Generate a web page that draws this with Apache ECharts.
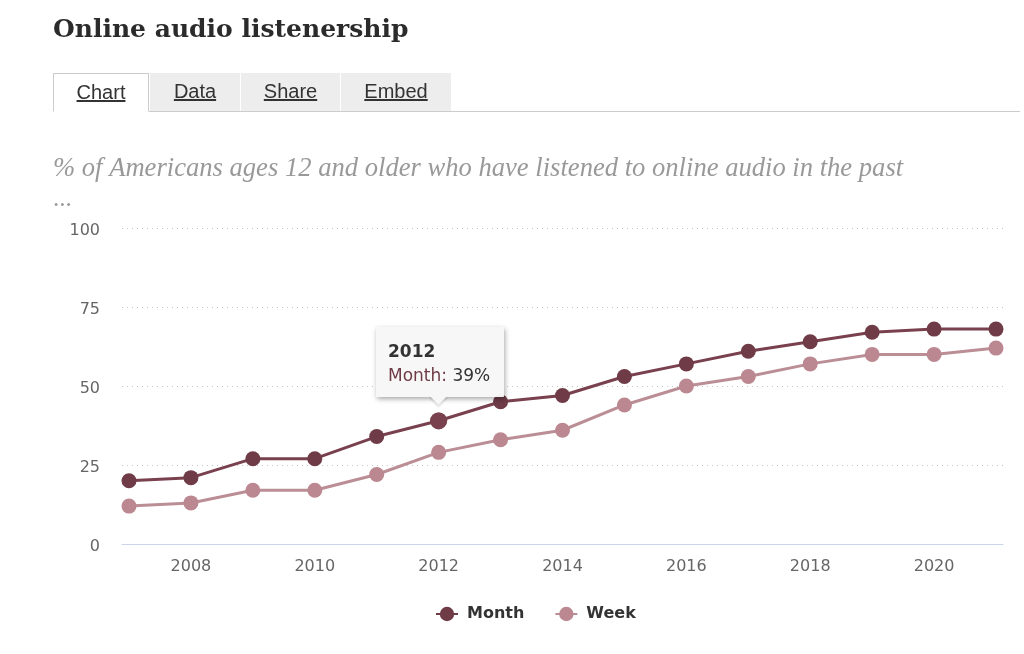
<!DOCTYPE html>
<html>
<head>
<meta charset="utf-8">
<title>Online audio listenership</title>
<script src="https://cdn.jsdelivr.net/npm/echarts@6/dist/echarts.min.js"></script>
<style>
	html, body { margin: 0; padding: 0; background: #fff; overflow: hidden; }
	#audioChart { position: absolute; left: 0; top: 0; width: 1024px; height: 654px; }
	#tabs { position: absolute; left: 53px; top: 73px; width: 967px; height: 38px; border-bottom: 1px solid #ccc; z-index: 2; }
	#tabs a { position: absolute; top: 0; height: 38px; line-height: 37px; text-align: center; background: #ededed;
		font-family: "Liberation Sans", sans-serif; font-size: 20px; color: #333; text-decoration: underline; }
	#tabs a.active { background: #fff; border: 1px solid #ccc; border-bottom: 1px solid #fff; box-sizing: border-box; height: 39px; }
</style>
</head>
<body>
<div id="audioChart"></div>
<div id="tabs">
	<a class="active" style="left:0;width:96px">Chart</a>
	<a style="left:97px;width:90px">Data</a>
	<a style="left:188px;width:99px">Share</a>
	<a style="left:288px;width:110px">Embed</a>
</div>
<script>
var years = [2007, 2008, 2009, 2010, 2011, 2012, 2013, 2014, 2015, 2016, 2017, 2018, 2019, 2020, 2021];
var month = [20, 21, 27, 27, 34, 39, 45, 47, 53, 57, 61, 64, 67, 68, 68];
var week = [12, 13, 17, 17, 22, 29, 33, 36, 44, 50, 53, 57, 60, 60, 62];
var yearTicks = [2008, 2010, 2012, 2014, 2016, 2018, 2020];

var pairUp = function(values) {
	var out = [];
	for (var i = 0; i < years.length; i++) {
		out.push([years[i], values[i]]);
	}
	return out;
};

var audioChart = echarts.init(document.getElementById('audioChart'));
var sansFont = '"DejaVu Sans", sans-serif';

var optionAudio = {
	animation : false,
	backgroundColor : '#fff',
	title : [ {
		text : 'Online audio listenership',
		left : 53,
		top : 18,
		padding : 0,
		textStyle : {
			fontFamily : '"DejaVu Serif", serif',
			fontWeight : 'bold',
			fontSize : 25,
			color : '#2b2b2b'
		}
	}, {
		text : '% of Americans ages 12 and older who have listened to online audio in the past',
		left : 53,
		top : 155,
		padding : 0,
		textStyle : {
			fontFamily : '"Liberation Serif", serif',
			fontStyle : 'italic',
			fontWeight : 'normal',
			fontSize : 26.6,
			color : '#999'
		}
	}, {
		text : '...',
		left : 53,
		top : 187,
		padding : 0,
		textStyle : {
			fontFamily : '"Liberation Serif", serif',
			fontWeight : 'normal',
			fontSize : 25,
			color : '#999'
		}
	} ],
	legend : {
		data : [ 'Month', 'Week' ],
		left : 435,
		top : 606,
		padding : 0,
		itemGap : 30,
		itemWidth : 22,
		itemHeight : 18,
		textStyle : {
			fontFamily : sansFont,
			fontWeight : 'bold',
			fontSize : 16,
			color : '#333',
			padding : [ 0, 0, 0, 4 ]
		}
	},
	tooltip : {
		trigger : 'item',
		alwaysShowContent : true,
		hideDelay : 0,
		transitionDuration : 0,
		position : [ 376, 327 ],
		padding : 0,
		borderWidth : 0,
		backgroundColor : 'rgba(247,247,247,0.97)',
		extraCssText : 'box-shadow:1px 2px 5px rgba(0,0,0,0.35);border-radius:1px;width:128px;height:70px;overflow:visible;',
		formatter : function(p) {
			return '<div style="position:relative;width:128px;height:70px;font-family:' + "'DejaVu Sans'" + ',sans-serif;">'
				+ '<div style="position:absolute;left:12px;top:14px;font-size:17px;line-height:20px;font-weight:bold;color:#333;">' + p.value[0] + '</div>'
				+ '<div style="position:absolute;left:12px;top:38px;font-size:17px;line-height:20px;white-space:nowrap;color:#333;">'
				+ '<span style="color:' + p.color + '">' + p.seriesName + ':</span> ' + p.value[1] + '%</div>'
				+ '<div style="position:absolute;left:56px;top:62px;width:13px;height:13px;background:#f7f7f7;transform:rotate(45deg);box-shadow:2px 2px 2px rgba(0,0,0,0.12);"></div>'
				+ '</div>';
		}
	},
	grid : {
		left : 122,
		right : 21,
		top : 228,
		height : 316
	},
	xAxis : {
		type : 'value',
		min : 2006.887,
		max : 2021.113,
		axisLine : {
			show : true,
			lineStyle : { color : '#ccd6eb', width : 1 }
		},
		axisTick : { show : false },
		splitLine : { show : false },
		axisLabel : {
			customValues : yearTicks,
			formatter : function(v) { return String(v); },
			margin : 15,
			fontFamily : sansFont,
			fontSize : 16,
			color : '#666'
		}
	},
	yAxis : {
		type : 'value',
		min : 0,
		max : 100,
		interval : 25,
		axisLine : { show : false },
		axisTick : { show : false },
		splitLine : {
			lineStyle : { color : '#c4c4c4', type : [ 1, 4 ], width : 1 }
		},
		axisLabel : {
			margin : 22,
			verticalAlign : 'top',
			lineHeight : 6,
			fontFamily : sansFont,
			fontSize : 16,
			color : '#666'
		}
	},
	series : [ {
		name : 'Month',
		type : 'line',
		data : pairUp(month),
		symbol : 'circle',
		symbolSize : 15,
		z : 3,
		itemStyle : { color : '#6e3b47' },
		lineStyle : { color : '#6e3b47', width : 3 },
		emphasis : { scale : 1.15, lineStyle : { width : 3 } }
	}, {
		name : 'Week',
		type : 'line',
		data : pairUp(week),
		symbol : 'circle',
		symbolSize : 15,
		z : 2,
		itemStyle : { color : '#bb8790' },
		lineStyle : { color : '#bb8e95', width : 3 }
	} ]
};
audioChart.setOption(optionAudio);
audioChart.dispatchAction({ type : 'showTip', seriesIndex : 0, dataIndex : 5 });
audioChart.dispatchAction({ type : 'highlight', seriesIndex : 0, dataIndex : 5 });
</script>
</body>
</html>
